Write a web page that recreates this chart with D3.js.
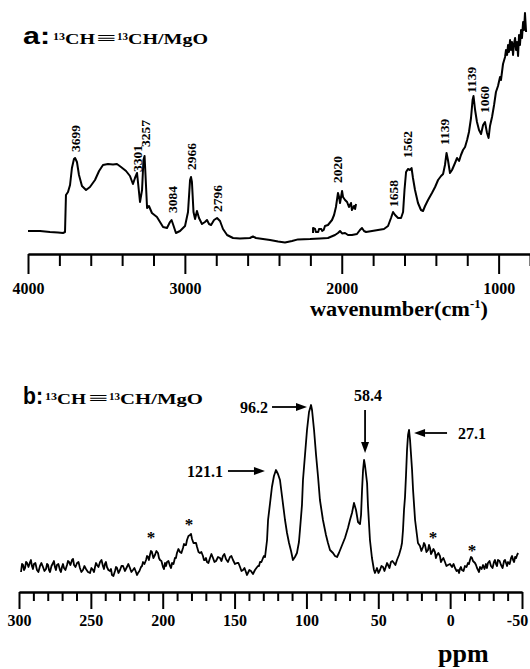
<!DOCTYPE html>
<html><head><meta charset="utf-8">
<script src="https://cdn.jsdelivr.net/npm/d3@7"></script>
<style>body{margin:0;background:#fff}svg{display:block}</style>
</head><body>
<svg id="c" width="530" height="669"></svg>
<script>
// ---------- Panel a: IR spectrum [wavenumber, absorbance (a.u.)] ----------
const irWavenumber = [4000,3923,3860,3809,3777,3764,3758,3745,3732,3720,3707,3700,3688,3675,3656,3630,3605,3573,3547,3522,3490,3458,3433,3407,3375,3350,3331,3318,3305,3299,3286,3273,3264,3257,3251,3241,3229,3210,3178,3139,3114,3095,3085,3076,3057,3031,2999,2980,2967,2961,2955,2945,2935,2923,2910,2891,2872,2859,2846,2833,2814,2795,2776,2757,2731,2693,2649,2585,2566,2547,2502,2457,2406,2362,2317,2279,2202,2139,2088,2043,2024,2011,1998,1979,1960,1935,1903,1884,1871,1858,1845,1807,1769,1731,1705,1686,1673,1660,1641,1622,1609,1600,1590,1578,1565,1555,1546,1533,1514,1495,1482,1469,1450,1425,1405,1386,1367,1354,1342,1332,1323,1310,1297,1278,1265,1252,1240,1227,1214,1201,1189,1176,1166,1160,1150,1138,1125,1112,1099,1087,1074,1064,1055,1042,1029,1017,1004,991,985,972,959,953,946,940,934,927,921,915,908,902,895,889,883,876,870,864,857,851,844,838,832,825];
const irAbsorbance = [4.5,4.5,4,3.8,3.5,4,22.5,24,27.5,36,40.5,41,39,32.5,27,25,26.5,30,34.5,37.5,38,37.8,38,36.5,34.5,32,28,31,33.5,29,19,25,40,42,32.5,16,17,13.5,11.5,6.5,6,9,10,8,3.5,4.5,7,14,30,31.5,29,14,10.5,14.5,11,8,9,10,8,7.5,10,11,9.5,5.5,2.5,1,0.8,1,1.8,1,0.5,0,-0.8,-1.3,-0.5,0.3,0.5,0.8,1,2.5,3.5,4.5,3.3,3.5,2.5,2.5,3,5,6,4.5,4,4.5,5,5.5,7,11,14,12.5,11,11,14,25,34,35.5,35,36,31,25,18.5,15,14.5,17,20,23.5,26.5,30,32,33,37.5,43.5,40,33.5,35,38.5,41,39.5,42.5,45,46.5,50,54,61,70,72,65,59,55,53,57.5,59,53.5,51,57,61.5,67.5,74,77,81.5,80,88,91.5,95,92.5,97.5,94,100,95,99,92.5,98,101,95,99,92,102.5,97.5,105,101,109,105,113.5,104];
// offset / expanded trace around 2020 cm-1
const insetWavenumber = [2183,2183,2170,2165,2150,2145,2130,2125,2115,2107,2088,2062,2049,2037,2024,2017,2011,1998,1992,1979,1966,1954,1941,1935,1922,1915,1909];
const insetAbsorbance = [3.5,6,5.5,4,4,5.5,5.5,4.5,5,7,7.5,10,12.5,16.5,23.5,21.5,18.5,24.5,21.5,20,19,16.5,18.5,15,17,15.5,18];
const irPeakLabels = ["3699","3301","3257","3084","2966","2796","2020","1658","1562","1139","1139","1060"];
const irPeakWn = [3700,3305,3248,3082,2955,2789,2024,1673,1584,1342,1170,1087];
const irPeakLabelBase = [44,34,46.5,13.5,35,14,28.5,16.5,41,47.5,73.5,63.5];
const irTicks = [4000,3800,3600,3400,3200,3000,2800,2600,2400,2200,2000,1800,1600,1400,1200,1000,800];
const irMajorTicks = [4000,3000,2000,1000];

// ---------- Panel b: 13C NMR [ppm, intensity] ----------
const nmrPpm = [298.6,297.9,297.2,296.5,295.8,295.1,294.4,293.4,292.3,291.7,291.0,290.3,289.6,288.6,287.5,286.5,285.4,284.4,283.3,282.3,281.2,280.5,279.8,279.1,278.4,277.4,276.3,275.7,275.0,274.3,273.6,272.6,271.5,270.8,270.1,269.4,268.7,267.7,266.6,265.9,265.2,264.2,263.1,262.4,261.7,260.7,259.6,258.6,257.6,256.6,255.5,254.5,253.4,252.0,250.6,249.6,248.5,247.8,247.1,246.4,245.7,244.7,243.6,242.6,241.6,240.9,240.2,239.5,238.8,237.8,236.7,236.0,235.3,234.3,233.2,232.5,231.8,230.8,229.7,228.7,227.6,226.3,224.9,223.9,222.8,221.8,220.7,219.7,218.6,217.9,217.2,216.2,215.1,214.4,213.7,212.7,211.6,210.9,210.2,209.6,208.9,208.2,207.5,206.5,205.4,204.4,203.3,202.6,201.9,200.9,199.8,199.1,198.4,197.7,197.0,196.0,194.9,194.2,193.5,192.5,191.5,190.8,190.1,189.1,188.0,187.0,185.9,185.2,184.5,183.8,183.1,182.1,181.0,180.3,179.6,178.6,177.5,176.8,176.1,175.1,174.1,173.1,172.0,171.3,170.6,169.9,169.2,168.2,167.1,166.1,165.0,164.0,162.9,161.5,160.1,159.1,158.1,157.1,156.0,154.6,153.2,152.2,151.1,149.7,148.3,147.3,146.2,145.2,144.1,143.1,142.1,141.4,140.7,139.7,138.6,137.2,135.8,134.8,133.7,133.0,132.3,131.3,130.2,129.5,128.8,127.4,126.7,125.3,124.0,122.6,121.2,119.8,118.4,117.0,114.9,113.5,112.1,110.7,109.4,108.0,106.6,105.2,104.5,103.1,102.4,101.0,99.6,98.2,96.8,96.1,94.7,93.3,91.9,90.6,88.5,86.4,85.0,83.6,81.5,80.1,78.7,77.4,76.0,74.6,73.2,71.1,69.7,68.3,66.9,65.5,64.1,62.7,62.0,61.3,60.6,59.9,59.2,57.8,57.2,55.8,54.4,53.0,52.3,50.9,49.9,48.8,47.8,46.7,45.7,44.6,43.9,43.2,42.2,41.2,40.2,39.1,38.1,37.0,35.6,34.2,33.5,32.8,32.1,31.4,30.7,30.0,29.3,28.6,27.9,27.2,26.5,25.8,24.4,23.1,22.4,21.0,20.0,18.9,18.2,17.5,16.5,15.4,14.7,14.0,13.3,12.6,11.6,10.6,9.9,9.2,8.2,7.1,6.4,5.7,4.7,3.6,2.6,1.5,0.1,-1.3,-2.4,-3.4,-4.5,-5.5,-6.2,-6.8,-7.5,-8.2,-9.3,-10.3,-11.4,-12.4,-13.1,-13.8,-14.5,-15.2,-15.9,-16.6,-17.3,-18.0,-18.7,-19.4,-20.1,-20.8,-21.9,-22.9,-23.9,-24.9,-25.6,-26.3,-27.4,-28.4,-29.5,-30.5,-31.2,-31.9,-32.6,-33.3,-34.4,-35.4,-36.5,-37.5,-38.2,-38.9,-39.6,-40.3,-41.4,-42.4,-43.1,-43.8,-44.5,-45.2,-45.9,-46.6,-47.3];
const nmrIntensity = [4,8,7.5,5,6,9,8.5,6.5,9,10,7,5.5,8,8.5,5,4,7,8.5,6.5,4.5,5.5,8,7.5,5,4,7,8.5,9.5,6.5,5,7.5,8,5,4,6.5,8,6,5,7.5,9.5,9,7.5,10,10.5,7.5,6.5,8.5,9,6,4,5,7,5.5,4,3.5,6,5,4,6.5,8.5,7.5,6.5,9,10,7,5.5,8,9,6.5,5,4.5,5.5,2.5,2,4.5,6.5,6,3.5,5,7,7,4.5,6.5,8,6,4,5,6,4,2.5,3.5,4.5,6.5,7,9,8,10,12,11.5,10,12.5,14.5,14,11,12.5,14.5,13.5,11,10,9.5,6.5,5.5,8.5,7,9,9.5,7,6,8.5,8,11,11,13.5,15.5,14,13.5,16,18,17.5,17.5,20,22,22.5,23,20.5,18.5,18.5,18.5,16.5,14,13.5,14,12,10,10,11,9,8.5,11,13,11,9,9.5,11.5,11,9.5,12,13,10.5,9,11.5,12,10,8,8.5,8.5,6.5,4.5,5,6,4,2.5,3.5,5,4.5,3,5,6,7,7,9,9,11,12,11.5,20,30,38.5,46.5,52,55,53,50,42,30,23.5,18.5,14.5,10,11.5,13.5,19,25,37.5,50,62.5,75,84,87.5,85,75,62.5,51.5,40,30,22.5,18.5,15,13.5,12,11.5,13.5,16,18.5,21,26,30,33.5,38.5,35,29,28,32.5,45,55,60,57,48.5,37.5,20,11,5,3.5,6,3.5,5,7,6.5,4.5,7,8.5,7.5,6,9,9.5,8.5,7.5,10,12.5,16,18.5,25,35,41.5,52.5,65,72.5,75,70,62.5,55,45,30,22.5,18.5,17,14.5,16.5,18.5,17.5,14,15,17.5,16,13,14,15.5,14,11,12.5,13.5,12,9,10,11,9,7,7.5,8,6.5,8,6,4.5,5,3.5,5.5,6.5,5,4.5,7,6.5,8.5,8,10,11.5,11,9.5,9,8.5,7.5,6,5,4,6.5,5.5,7.5,5.5,8,6,8.5,9.5,7,6,9,10,8,7,10,9.5,7.5,6,9.5,10,8.5,7,9,8,11,12,10,9,11.5,11,12.5,13.5];
const nmrPeakLabels = ["121.1","96.2","58.4","27.1"];
const nmrPeakPpm = [121.2,96.8,59.9,28.6];
const nmrPeakIntensity = [55,87.5,60,75];
const nmrStarPpm = [208.2,181.7,11.9,-15.2];
const nmrStarIntensity = [22.5,29,22.5,16];
const nmrTicks = [300,290,280,270,260,250,240,230,220,210,200,190,180,170,160,150,140,130,120,110,100,90,80,70,60,50,40,30,20,10,0,-10,-20,-30,-40,-50];
const nmrMajorTicks = [300,250,200,150,100,50,0,-50];

// ---------- drawing ----------
const svg = d3.select("#c");
const SERIF = "'Liberation Serif','Times New Roman',serif";
const SANS = "'Liberation Sans',Arial,sans-serif";

const xIR = d3.scaleLinear().domain([4000, 800]).range([28, 530]);
const yIR = d3.scaleLinear().domain([0, 100]).range([240, 40]);
const xN = d3.scaleLinear().domain([300, -50]).range([19, 522]);
const yN = d3.scaleLinear().domain([0, 100]).range([580, 380]);

function drawAxis(x, y0, ticks, majors, minorLen, majorLen, labelBase) {
  const gMin = svg.append("g").attr("transform", `translate(0,${y0})`)
    .call(d3.axisBottom(x).tickValues(ticks.filter(t => !majors.includes(t))).tickSize(minorLen).tickSizeOuter(0).tickFormat(""));
  const gMaj = svg.append("g").attr("transform", `translate(0,${y0})`)
    .call(d3.axisBottom(x).tickValues(majors).tickSize(majorLen).tickSizeOuter(0).tickFormat(d => String(d)));
  [gMin, gMaj].forEach(g => {
    g.selectAll("path,line").attr("stroke", "#000").attr("stroke-width", 2);
  });
  gMaj.selectAll("text").attr("y", labelBase - y0).attr("dy", 0)
    .attr("x", d => d < 0 ? -5 : 0)
    .style("font-family", SERIF).style("font-weight", "bold").style("font-size", "16px").attr("fill", "#000");
}

const line = (x, y) => d3.line().x(d => x(d[0])).y(d => y(d[1]));

// Panel a
svg.append("path").datum(irWavenumber.map((w, i) => [w, irAbsorbance[i]]))
  .attr("d", line(xIR, yIR)).attr("fill", "none").attr("stroke", "#000")
  .attr("stroke-width", 2).attr("stroke-linejoin", "round");
svg.append("path").datum(insetWavenumber.map((w, i) => [w, insetAbsorbance[i]]))
  .attr("d", line(xIR, yIR)).attr("fill", "none").attr("stroke", "#000")
  .attr("stroke-width", 2).attr("stroke-linejoin", "round");

svg.append("g").selectAll("text").data(irPeakLabels).join("text")
  .attr("transform", (d, i) => `translate(${xIR(irPeakWn[i]) + 4.5},${yIR(irPeakLabelBase[i])}) rotate(-90)`)
  .style("font-family", SERIF).style("font-weight", "bold").style("font-size", "13.5px")
  .text(d => d);

drawAxis(xIR, 254, irTicks, irMajorTicks, 12, 20, 294);

svg.append("text").attr("x", 310).attr("y", 316).style("font-family", SERIF).style("font-weight", "bold")
  .style("font-size", "21px").attr("textLength", 178).attr("lengthAdjust", "spacingAndGlyphs")
  .call(t => {
    t.append("tspan").text("wavenumber(cm");
    t.append("tspan").style("font-size", "12px").attr("dy", -8).text("-1");
    t.append("tspan").attr("dy", 8).text(")");
  });

function title(letter, y, pos) {
  const g = svg.append("g").style("font-weight", "bold");
  const piece = (txt, x, yy, w, fam, size) => g.append("text").attr("x", x).attr("y", yy)
    .style("font-family", fam).style("font-size", size + "px").attr("textLength", w)
    .attr("lengthAdjust", "spacingAndGlyphs").text(txt);
  piece(letter + ":", 23, y, pos[0], SANS, 24);
  piece("13", pos[1], y - 4, 12, SERIF, 11);
  piece("CH", pos[1] + 12, y, pos[2], SERIF, 15);
  piece("\u2261", pos[3], y - 1, 20, SERIF, 15);
  piece("13", pos[3] + 21, y - 4, 11, SERIF, 11);
  piece("CH/MgO", pos[3] + 32, y, pos[4], SERIF, 15);
}
title("a", 44, [27, 53, 30, 96, 80]);
title("b", 404, [20, 45, 29, 88, 83]);

// Panel b
svg.append("path").datum(nmrPpm.map((p, i) => [p, nmrIntensity[i]]))
  .attr("d", line(xN, yN)).attr("fill", "none").attr("stroke", "#000")
  .attr("stroke-width", 1.8).attr("stroke-linejoin", "round");

drawAxis(xN, 592, nmrTicks, nmrMajorTicks, 9, 17, 626);

svg.append("text").attr("x", 438).attr("y", 662).style("font-family", SERIF).style("font-weight", "bold")
  .style("font-size", "26px").text("ppm");

// peak annotations with arrows
function arrow(x1, y1, x2, y2) {
  const ang = Math.atan2(y2 - y1, x2 - x1), L = 11, W = 4;
  const bx = x2 - L * Math.cos(ang), by = y2 - L * Math.sin(ang);
  svg.append("line").attr("x1", x1).attr("y1", y1).attr("x2", bx).attr("y2", by)
    .attr("stroke", "#000").attr("stroke-width", 1.8);
  const px = -Math.sin(ang) * W, py = Math.cos(ang) * W;
  svg.append("path").attr("d", `M${x2},${y2}L${bx + px},${by + py}L${bx - px},${by - py}Z`).attr("fill", "#000");
}
const annText = (txt, x, y, anchor) => svg.append("text").attr("x", x).attr("y", y)
  .attr("text-anchor", anchor).style("font-family", SERIF).style("font-weight", "bold")
  .style("font-size", "16px").text(txt);

nmrPeakLabels.forEach((lab, i) => {
  const px = xN(nmrPeakPpm[i]), py = yN(nmrPeakIntensity[i]);
  if (i === 0) { arrow(px - 48, py + 1, px - 11, py + 1); annText(lab, px - 53, py + 7, "end"); }
  if (i === 1) { arrow(px - 39, py + 2, px - 4, py + 2); annText(lab, px - 43, py + 8, "end"); }
  if (i === 2) { arrow(px + 1, py - 50, px + 1, py - 7); annText(lab, px + 4, py - 59, "middle"); }
  if (i === 3) { arrow(px + 38, py + 3, px + 5, py + 3); annText(lab, px + 49, py + 9, "start"); }
});

svg.append("g").selectAll("text").data(nmrStarPpm).join("text")
  .attr("x", d => xN(d)).attr("y", (d, i) => yN(nmrStarIntensity[i]) + 8)
  .attr("text-anchor", "middle").style("font-family", SERIF).style("font-weight", "bold")
  .style("font-size", "17px").attr("fill", "#000").text("*");
</script>
</body></html>
